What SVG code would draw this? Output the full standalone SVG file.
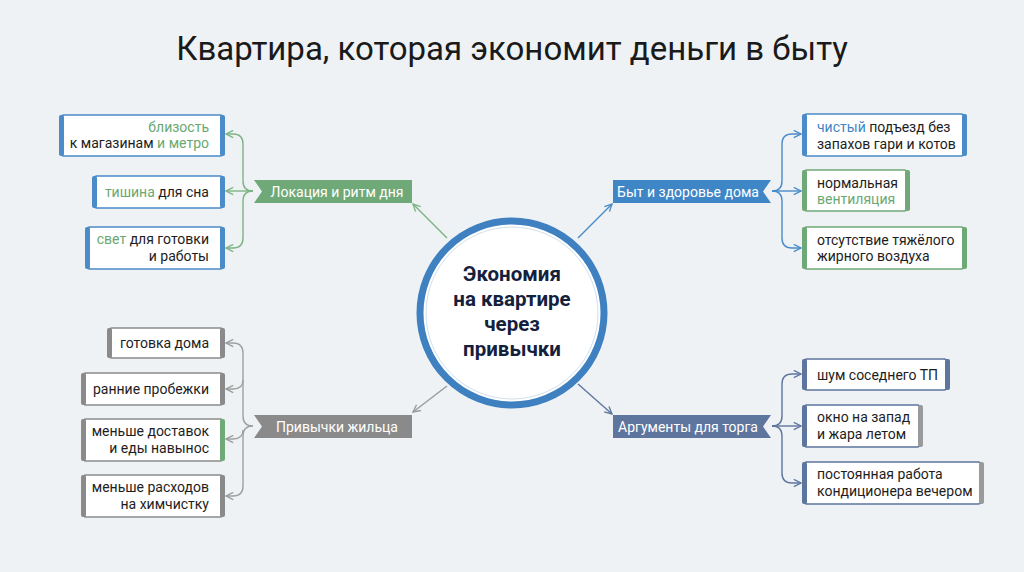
<svg xmlns="http://www.w3.org/2000/svg" width="1024" height="572" viewBox="0 0 1024 572">
<defs>
<style>
text{font-family:Roboto,"Liberation Sans",sans-serif;}
.t{font-size:14px;fill:#1d1d1d;}
.lab{font-size:14px;fill:#fff;}
.g{fill:#6aa872;}.b{fill:#3f86c6;}
.box{fill:#fff;stroke-width:1.5;}
.c{fill:none;stroke-width:1.4;}
</style>
<marker id="ag" viewBox="0 0 10 10" refX="9" refY="5" markerWidth="9" markerHeight="9" orient="auto-start-reverse" markerUnits="userSpaceOnUse"><path d="M1,1 L9,5 L1,9" fill="none" stroke="#7db383" stroke-width="1.5"/></marker>
<marker id="ab" viewBox="0 0 10 10" refX="9" refY="5" markerWidth="9" markerHeight="9" orient="auto-start-reverse" markerUnits="userSpaceOnUse"><path d="M1,1 L9,5 L1,9" fill="none" stroke="#4a8bc8" stroke-width="1.5"/></marker>
<marker id="ay" viewBox="0 0 10 10" refX="9" refY="5" markerWidth="9" markerHeight="9" orient="auto-start-reverse" markerUnits="userSpaceOnUse"><path d="M1,1 L9,5 L1,9" fill="none" stroke="#9a9a9a" stroke-width="1.5"/></marker>
<marker id="as" viewBox="0 0 10 10" refX="9" refY="5" markerWidth="9" markerHeight="9" orient="auto-start-reverse" markerUnits="userSpaceOnUse"><path d="M1,1 L9,5 L1,9" fill="none" stroke="#5e759e" stroke-width="1.5"/></marker>
</defs>
<rect width="1024" height="572" fill="#eef2f5"/>
<text x="512" y="60" text-anchor="middle" font-size="33" fill="#1a1a1a">Квартира, которая экономит деньги в быту</text>

<g id="connectors">
<path class="c" stroke="#7db383" d="M447,238 L413,204" marker-end="url(#ag)"/>
<path class="c" stroke="#4a8bc8" d="M578,238 L612,204" marker-end="url(#ab)"/>
<path class="c" stroke="#9a9a9a" d="M447,386 L413,412" marker-end="url(#ay)"/>
<path class="c" stroke="#5e759e" d="M578,384 L612,414" marker-end="url(#as)"/>
<g stroke="#7db383" class="c">
<path d="M253,191 Q243,191 243,181 L243,144 Q243,134 233,134 L226,134" marker-end="url(#ag)"/>
<path d="M253,191 L226,191" marker-end="url(#ag)"/>
<path d="M253,191 Q243,191 243,201 L243,238 Q243,248 233,248 L226,248" marker-end="url(#ag)"/>
</g>
<g stroke="#4a8bc8" class="c">
<path d="M772,191 Q782,191 782,181 L782,144 Q782,134 792,134 L801,134" marker-end="url(#ab)"/>
<path d="M772,191 L801,191" marker-end="url(#ab)"/>
<path d="M772,191 Q782,191 782,201 L782,238 Q782,248 792,248 L801,248" marker-end="url(#ab)"/>
</g>
<g stroke="#a0a0a0" class="c">
<path d="M253,426 Q243,426 243,416 L243,353 Q243,343 233,343 L226,343" marker-end="url(#ay)"/>
<path d="M243,380 Q243,389 233,389 L226,389" marker-end="url(#ay)"/>
<path d="M243,430 Q243,439 233,439 L226,439" marker-end="url(#ay)"/>
<path d="M253,426 Q243,426 243,436 L243,486 Q243,496 233,496 L226,496" marker-end="url(#ay)"/>
</g>
<g stroke="#5e759e" class="c">
<path d="M772,426 Q782,426 782,416 L782,384 Q782,374 792,374 L801,374" marker-end="url(#as)"/>
<path d="M772,426 L801,426" marker-end="url(#as)"/>
<path d="M772,426 Q782,426 782,436 L782,473 Q782,483 792,483 L801,483" marker-end="url(#as)"/>
</g>
</g>

<g id="center">
<circle cx="512" cy="313" r="92" fill="#fff" stroke="#3f80c0" stroke-width="7"/>
<circle cx="512" cy="313" r="86" fill="none" stroke="#cfe0ef" stroke-width="1"/>
<text x="512" y="281" text-anchor="middle" font-size="20.5" font-weight="bold" fill="#14213d">Экономия</text>
<text x="512" y="306" text-anchor="middle" font-size="20.5" font-weight="bold" fill="#14213d">на квартире</text>
<text x="512" y="331" text-anchor="middle" font-size="20.5" font-weight="bold" fill="#14213d">через</text>
<text x="512" y="356" text-anchor="middle" font-size="20.5" font-weight="bold" fill="#14213d">привычки</text>
</g>

<g id="b-loc"><path d="M254,180 L412,180 L412,203 L254,203 L262,191.5 Z" fill="#6fa977"/><text class="lab" x="337" y="196.5" text-anchor="middle">Локация и ритм дня</text></g>
<g id="b-byt"><path d="M613,180 L771,180 L763,191.5 L771,203 L613,203 Z" fill="#3f86c6"/><text class="lab" x="688" y="196.5" text-anchor="middle">Быт и здоровье дома</text></g>
<g id="b-priv"><path d="M254,415 L412,415 L412,438 L254,438 L262,426.5 Z" fill="#8a8a8a"/><text class="lab" x="337" y="431.5" text-anchor="middle">Привычки жильца</text></g>
<g id="b-arg"><path d="M613,415 L771,415 L763,426.5 L771,438 L613,438 Z" fill="#5e759e"/><text class="lab" x="688" y="431.5" text-anchor="middle">Аргументы для торга</text></g>

<g id="n1"><rect class="box" x="61" y="115" width="162" height="41" rx="3" stroke="#4a8bc8"/><rect x="59" y="115" width="5" height="41" rx="2" fill="#4a8bc8"/><rect x="220" y="115" width="5" height="41" rx="2" fill="#4a8bc8"/>
<text class="t" x="209" y="132" text-anchor="end"><tspan class="g">близость</tspan></text><text class="t" x="209" y="148" text-anchor="end">к магазинам <tspan class="g">и</tspan> <tspan class="g">метро</tspan></text></g>
<g id="n2"><rect class="box" x="94" y="176" width="129" height="32" rx="3" stroke="#4a8bc8"/><rect x="92" y="176" width="5" height="32" rx="2" fill="#4a8bc8"/><rect x="220" y="176" width="5" height="32" rx="2" fill="#4a8bc8"/>
<text class="t" x="209" y="197" text-anchor="end"><tspan class="g">тишина</tspan> для сна</text></g>
<g id="n3"><rect class="box" x="87" y="227" width="136" height="42" rx="3" stroke="#4a8bc8"/><rect x="85" y="227" width="5" height="42" rx="2" fill="#4a8bc8"/><rect x="220" y="227" width="5" height="42" rx="2" fill="#4a8bc8"/>
<text class="t" x="209" y="244" text-anchor="end"><tspan class="g">свет</tspan> для готовки</text><text class="t" x="209" y="261" text-anchor="end">и работы</text></g>

<g id="n4"><rect class="box" x="804" y="114" width="160" height="42" rx="3" stroke="#4a8bc8"/><rect x="802" y="114" width="5" height="42" rx="2" fill="#4a8bc8"/><rect x="962" y="114" width="5" height="42" rx="2" fill="#4a8bc8"/>
<text class="t" x="817" y="132"><tspan class="b">чистый</tspan> подъезд без</text><text class="t" x="817" y="149">запахов гари и котов</text></g>
<g id="n5"><rect class="box" x="804" y="170" width="103" height="41" rx="3" stroke="#6fa977"/><rect x="802" y="170" width="5" height="41" rx="2" fill="#6fa977"/><rect x="905" y="170" width="5" height="41" rx="2" fill="#6fa977"/>
<text class="t" x="817" y="188">нормальная</text><text class="t" x="817" y="204"><tspan class="g">вентиляция</tspan></text></g>
<g id="n6"><rect class="box" x="804" y="227" width="160" height="42" rx="3" stroke="#6fa977"/><rect x="802" y="227" width="5" height="42" rx="2" fill="#6fa977"/><rect x="962" y="227" width="5" height="42" rx="2" fill="#6fa977"/>
<text class="t" x="817" y="245">отсутствие тяжёлого</text><text class="t" x="817" y="261">жирного воздуха</text></g>

<g id="n7"><rect class="box" x="109" y="328" width="114" height="30" rx="3" stroke="#8a8a8a"/><rect x="107" y="328" width="5" height="30" rx="2" fill="#8a8a8a"/><rect x="220" y="328" width="5" height="30" rx="2" fill="#8a8a8a"/>
<text class="t" x="209" y="348" text-anchor="end">готовка дома</text></g>
<g id="n8"><rect class="box" x="83" y="373" width="140" height="32" rx="3" stroke="#8a8a8a"/><rect x="81" y="373" width="5" height="32" rx="2" fill="#8a8a8a"/><rect x="220" y="373" width="5" height="32" rx="2" fill="#8a8a8a"/>
<text class="t" x="209" y="394" text-anchor="end">ранние пробежки</text></g>
<g id="n9"><rect class="box" x="83" y="419" width="140" height="42" rx="3" stroke="#8a8a8a"/><rect x="81" y="419" width="5" height="42" rx="2" fill="#8a8a8a"/><rect x="220" y="419" width="5" height="42" rx="2" fill="#6fa977"/>
<text class="t" x="209" y="436" text-anchor="end">меньше доставок</text><text class="t" x="209" y="453" text-anchor="end">и еды навынос</text></g>
<g id="n10"><rect class="box" x="83" y="475" width="140" height="42" rx="3" stroke="#8a8a8a"/><rect x="81" y="475" width="5" height="42" rx="2" fill="#8a8a8a"/><rect x="220" y="475" width="5" height="42" rx="2" fill="#8a8a8a"/>
<text class="t" x="209" y="492" text-anchor="end">меньше расходов</text><text class="t" x="209" y="509" text-anchor="end">на химчистку</text></g>

<g id="n11"><rect class="box" x="804" y="359" width="143" height="31" rx="3" stroke="#5e759e"/><rect x="802" y="359" width="5" height="31" rx="2" fill="#5e759e"/><rect x="945" y="359" width="5" height="31" rx="2" fill="#5e759e"/>
<text class="t" x="817" y="380">шум соседнего ТП</text></g>
<g id="n12"><rect class="box" x="804" y="405" width="116" height="42" rx="3" stroke="#5e759e"/><rect x="802" y="405" width="5" height="42" rx="2" fill="#5e759e"/><rect x="918" y="405" width="5" height="42" rx="2" fill="#9a9a9a"/>
<text class="t" x="817" y="422">окно на запад</text><text class="t" x="817" y="439">и жара летом</text></g>
<g id="n13"><rect class="box" x="804" y="462" width="177" height="42" rx="3" stroke="#5e759e"/><rect x="802" y="462" width="5" height="42" rx="2" fill="#5e759e"/><rect x="979" y="462" width="5" height="42" rx="2" fill="#9a9a9a"/>
<text class="t" x="817" y="479">постоянная работа</text><text class="t" x="817" y="496">кондиционера вечером</text></g>
</svg>
